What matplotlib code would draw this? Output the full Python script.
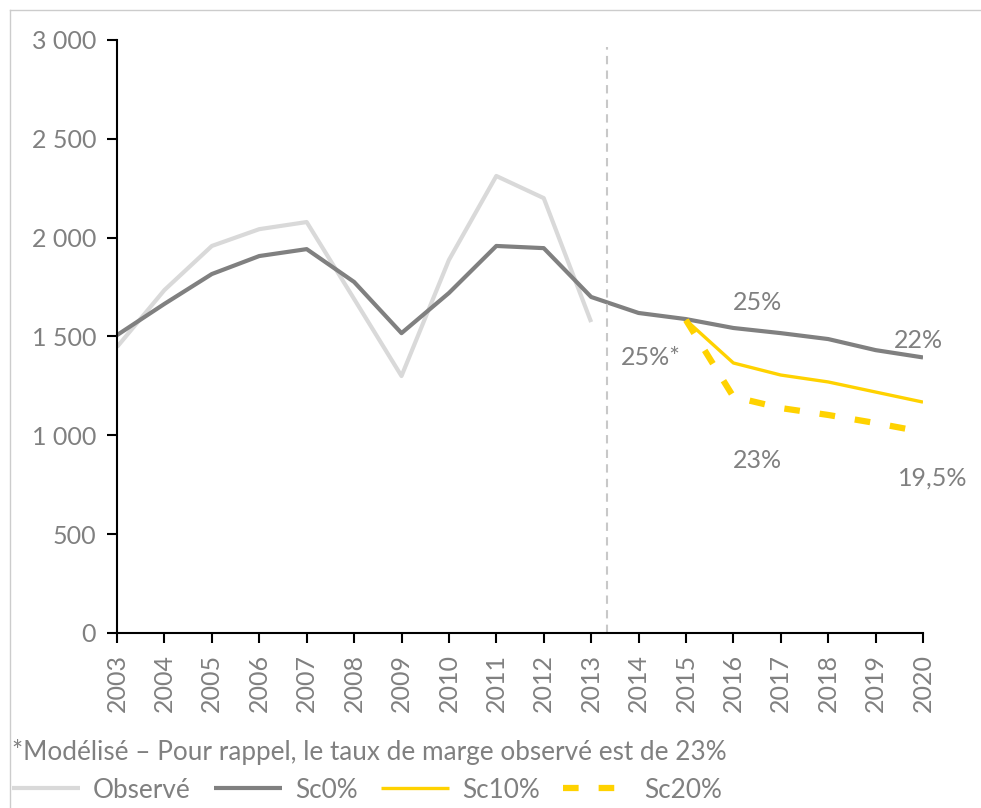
# Chart: observed vs. modelled scenarios 2003-2020
import matplotlib.pyplot as plt
from matplotlib.lines import Line2D
from matplotlib.ticker import FuncFormatter

plt.rcParams['font.family'] = ['Lato', 'DejaVu Sans']

# Data
years = list(range(2003, 2021))
obs_years = list(range(2003, 2014))
observe = [1447, 1735, 1958, 2043, 2079, 1690, 1300, 1887, 2312, 2200, 1573]
sc0 = [1507, 1665, 1816, 1907, 1942, 1776, 1517, 1720, 1958, 1947, 1700,
       1619, 1588, 1543, 1517, 1487, 1431, 1394]
sc_years = list(range(2015, 2021))
sc10 = [1583, 1366, 1305, 1270, 1219, 1168]
sc20 = [1583, 1195, 1138, 1103, 1062, 1017]

labels = [
    (2016.5, 1674, "25%"),
    (2019.9, 1482, "22%"),
    (2014.25, 1396, "25%*"),
    (2016.5, 875, "23%"),
    (2020.2, 784, "19,5%"),
]

grey_txt = "#808080"
fig = plt.figure(figsize=(9.81, 8.08), dpi=100)
ax = fig.add_axes([0.1193, 0.2166, 0.9409 - 0.1193, 0.9505 - 0.2166])

ax.plot(obs_years, observe, color="#d9d9d9", lw=3, label="Observé", solid_capstyle="butt")
ax.plot(years, sc0, color="#808080", lw=3, label="Sc0%", solid_capstyle="butt")
ax.plot(sc_years, sc10, color="#ffd200", lw=2.4, label="Sc10%", solid_capstyle="butt")
ax.plot(sc_years, sc20, color="#ffd200", lw=4.5, label="Sc20%",
        dashes=(2.5, 3.2), dash_capstyle="butt")

# vertical separator between observed and modelled
ax.plot([2013.33, 2013.33], [0, 2965], color="#c8c8c8", lw=1.5, ls=(0, (4, 3)))

for x, y, t in labels:
    ax.text(x, y, t, color=grey_txt, fontsize=18, ha="center", va="center")

ax.set_xlim(2003, 2020)
ax.set_ylim(0, 3000)
ax.set_xticks(years)
ax.set_xticklabels([str(y) for y in years], rotation=90)
ax.set_yticks(range(0, 3001, 500))
ax.yaxis.set_major_formatter(FuncFormatter(lambda v, p: f"{int(v):,}".replace(",", " ")))
ax.tick_params(axis="both", colors="black", labelcolor=grey_txt, labelsize=18,
               direction="out", length=7, width=1.5)
ax.tick_params(axis="y", pad=8)
ax.tick_params(axis="x", pad=8)
for s in ["top", "right"]:
    ax.spines[s].set_visible(False)
for s in ["left", "bottom"]:
    ax.spines[s].set_linewidth(1.5)

# footnote and legend
fig.text(12 / 981, 1 - 752 / 808, "*Modélisé – Pour rappel, le taux de marge observé est de 23%",
         color=grey_txt, fontsize=18.8, va="center")
fig.legend(loc="center left", bbox_to_anchor=(12 / 981, 1 - 790 / 808), ncol=4, frameon=False,
           fontsize=18.8, labelcolor=grey_txt, handlelength=2.6, columnspacing=0.9,
           handletextpad=0.5, borderaxespad=0, borderpad=0)

# light frame at top and left of the figure
fig.add_artist(Line2D([10 / 981, 1], [1 - 10 / 808] * 2, color="#cccccc", lw=1,
                      transform=fig.transFigure))
fig.add_artist(Line2D([10 / 981] * 2, [0, 1 - 10 / 808], color="#cccccc", lw=1,
                      transform=fig.transFigure))

fig.savefig("out.png", dpi=100)
